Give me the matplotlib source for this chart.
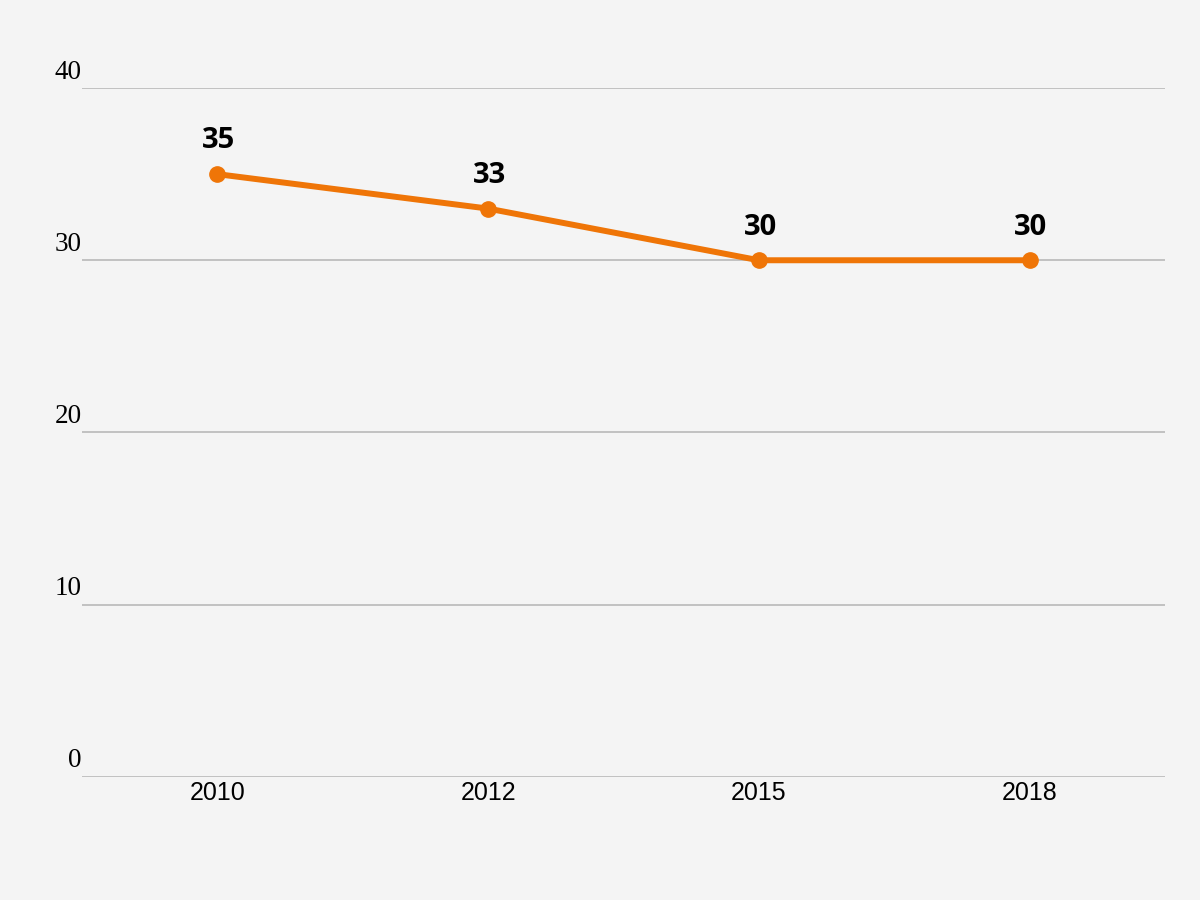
import matplotlib.pyplot as plt
import matplotlib.transforms as mtransforms

years = ["2010", "2012", "2015", "2018"]
values = [35, 33, 30, 30]
yticks = [0, 10, 20, 30, 40]

bg = "#f4f4f4"
orange = "#ef7507"

fig = plt.figure(figsize=(12, 9), dpi=100, facecolor=bg)
ax = fig.add_axes([0.0683, 0.1367, 0.9025, 0.7655], facecolor=bg)

xs = list(range(len(years)))
ax.plot(xs, values, color=orange, lw=4.3, marker="o", ms=11, zorder=3, solid_capstyle="round")
for x, v in zip(xs, values):
    ax.annotate(str(v), (x, v), xytext=(1, 13.5), textcoords="offset points",
                ha="center", va="bottom", fontsize=21, fontweight="bold",
                family="Open Sans", color="black")

ax.set_xlim(-0.5, len(years) - 0.5)
ax.set_ylim(0, 40)
ax.set_xticks(xs)
ax.set_xticklabels(years, family="Liberation Sans", fontsize=18)
ax.tick_params(axis="x", length=0, pad=3)

# y labels sit just above their gridlines
ax.set_yticks(yticks)
ax.set_yticklabels([])
ax.tick_params(axis="y", length=0)
lab_tr = ax.get_yaxis_transform() + mtransforms.ScaledTranslation(0, 2.5 / 72, fig.dpi_scale_trans)
for t in yticks:
    ax.text(0, t, str(t), transform=lab_tr, ha="right", va="bottom",
            family="Liberation Serif", fontsize=19.5, color="black")

ax.grid(axis="y", color="#bdbdbd", lw=1.3)
ax.set_axisbelow(True)
for s in ax.spines.values():
    s.set_visible(False)

fig.savefig("out.png", dpi=100, facecolor=bg)
